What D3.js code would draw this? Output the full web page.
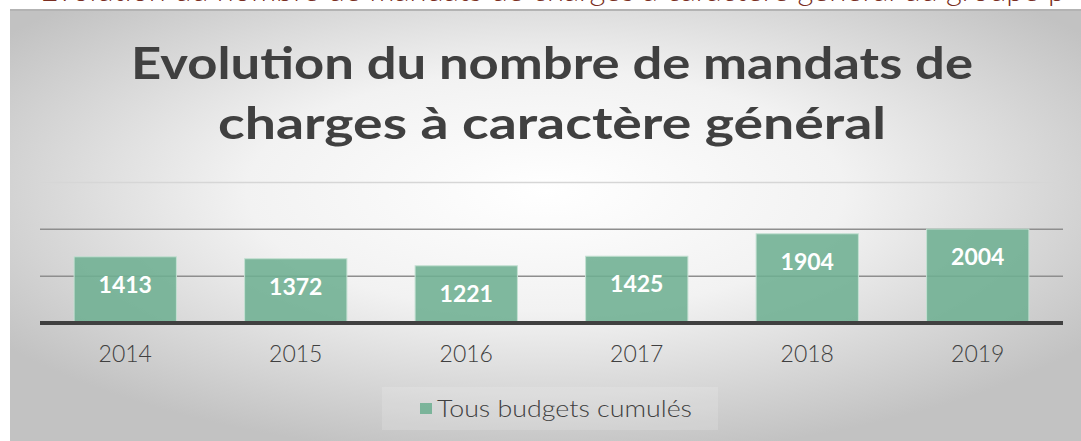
<!DOCTYPE html>
<html>
<head>
<meta charset="utf-8">
<script src="https://cdn.jsdelivr.net/npm/d3@7"></script>
<style>
  body { margin: 0; background: #fff; }
  svg { display: block; }
</style>
</head>
<body>
<div id="chart"></div>
<script>
// data
const years = ["2014", "2015", "2016", "2017", "2018", "2019"];
const mandats = [1413, 1372, 1221, 1425, 1904, 2004];
const gridTicks = [1000, 2000, 3000];
const titleLines = ["Evolution du nombre de mandats de", "charges à caractère général"];
const seriesName = "Tous budgets cumulés";

const W = 1081, H = 441;
const font = "Lato, 'Open Sans', sans-serif";

const svg = d3.select("#chart").append("svg")
    .attr("width", W)
    .attr("height", H);

const defs = svg.append("defs");
const grad = defs.append("radialGradient")
    .attr("id", "bg")
    .attr("cx", 0.5).attr("cy", 0.42).attr("r", 0.62);
grad.append("stop").attr("offset", "0%").attr("stop-color", "#ffffff");
grad.append("stop").attr("offset", "45%").attr("stop-color", "#f2f2f2");
grad.append("stop").attr("offset", "100%").attr("stop-color", "#c2c2c2");

// cut-off text of the slide above (only the bottom of the glyphs shows)
svg.append("text")
    .attr("x", 40)
    .attr("y", 1)
    .attr("font-family", font)
    .attr("font-weight", 300)
    .attr("font-size", 30)
    .attr("fill", "#7a2e22")
    .attr("textLength", 1025)
    .attr("lengthAdjust", "spacingAndGlyphs")
    .text("Evolution du nombre de mandats de charges à caractère général du groupe p");

// slide panel
svg.append("rect")
    .attr("x", 10).attr("y", 10)
    .attr("width", W - 10).attr("height", H - 10)
    .attr("fill", "url(#bg)");
svg.append("line")
    .attr("x1", 10).attr("x2", W)
    .attr("y1", 10).attr("y2", 10)
    .attr("stroke", "#b3b3b3")
    .attr("stroke-width", 2);

// title
const titleWidths = [842, 668];
svg.append("g").selectAll("text")
    .data(titleLines)
    .enter().append("text")
    .attr("x", 552)
    .attr("y", (d, i) => 79 + i * 60)
    .attr("text-anchor", "middle")
    .attr("font-family", font)
    .attr("font-weight", "bold")
    .attr("font-size", 44)
    .attr("fill", "#404040")
    .attr("textLength", (d, i) => titleWidths[i])
    .attr("lengthAdjust", "spacingAndGlyphs")
    .text(d => d);

// scales
const x = d3.scaleBand()
    .domain(years)
    .range([40, 1063])
    .paddingInner(0.4)
    .paddingOuter(0.2);

const y = d3.scaleLinear()
    .domain([0, 3000])
    .range([323, 182.4]);

// gridlines
svg.append("g").selectAll("line")
    .data(gridTicks)
    .enter().append("line")
    .attr("x1", 40).attr("x2", 1063)
    .attr("y1", d => y(d)).attr("y2", d => y(d))
    .attr("stroke", d => d === 3000 ? "#d6d6d6" : "#8e8e8e")
    .attr("stroke-width", 1.5);

// bars
svg.append("g").selectAll("rect")
    .data(mandats)
    .enter().append("rect")
    .attr("x", (d, i) => x(years[i]))
    .attr("y", d => y(d))
    .attr("width", x.bandwidth())
    .attr("height", d => y(0) - y(d))
    .attr("fill", "rgb(110,175,146)")
    .attr("fill-opacity", 0.88)
    .attr("stroke", "#c4e0d2")
    .attr("stroke-width", 1);

// value labels
svg.append("g").selectAll("text")
    .data(mandats)
    .enter().append("text")
    .attr("x", (d, i) => x(years[i]) + x.bandwidth() / 2)
    .attr("y", d => y(d) + 36)
    .attr("text-anchor", "middle")
    .attr("font-family", font)
    .attr("font-weight", "bold")
    .attr("font-size", 23)
    .attr("fill", "#ffffff")
    .text(d => d);

// x axis
const xAxis = svg.append("g")
    .attr("transform", `translate(0,${y(0)})`)
    .call(d3.axisBottom(x).tickSize(0).tickPadding(0));
xAxis.select(".domain").remove();
xAxis.append("line")
    .attr("x1", 40).attr("x2", 1063)
    .attr("stroke", "#404040")
    .attr("stroke-width", 4);
xAxis.selectAll(".tick text")
    .attr("y", 39)
    .attr("dy", 0)
    .attr("font-family", font)
    .attr("font-weight", 300)
    .attr("font-size", 23)
    .attr("fill", "#404040");

// legend
const legend = svg.append("g");
legend.append("rect")
    .attr("x", 382).attr("y", 387)
    .attr("width", 336).attr("height", 43)
    .attr("fill", "#ffffff")
    .attr("fill-opacity", 0.15);
legend.append("rect")
    .attr("x", 420).attr("y", 403)
    .attr("width", 12).attr("height", 11)
    .attr("fill", "rgb(110,175,146)")
    .attr("fill-opacity", 0.88);
legend.append("text")
    .attr("x", 437)
    .attr("y", 417)
    .attr("font-family", font)
    .attr("font-weight", 300)
    .attr("font-size", 23)
    .attr("fill", "#404040")
    .attr("textLength", 255)
    .attr("lengthAdjust", "spacingAndGlyphs")
    .text(seriesName);
</script>
</body>
</html>
